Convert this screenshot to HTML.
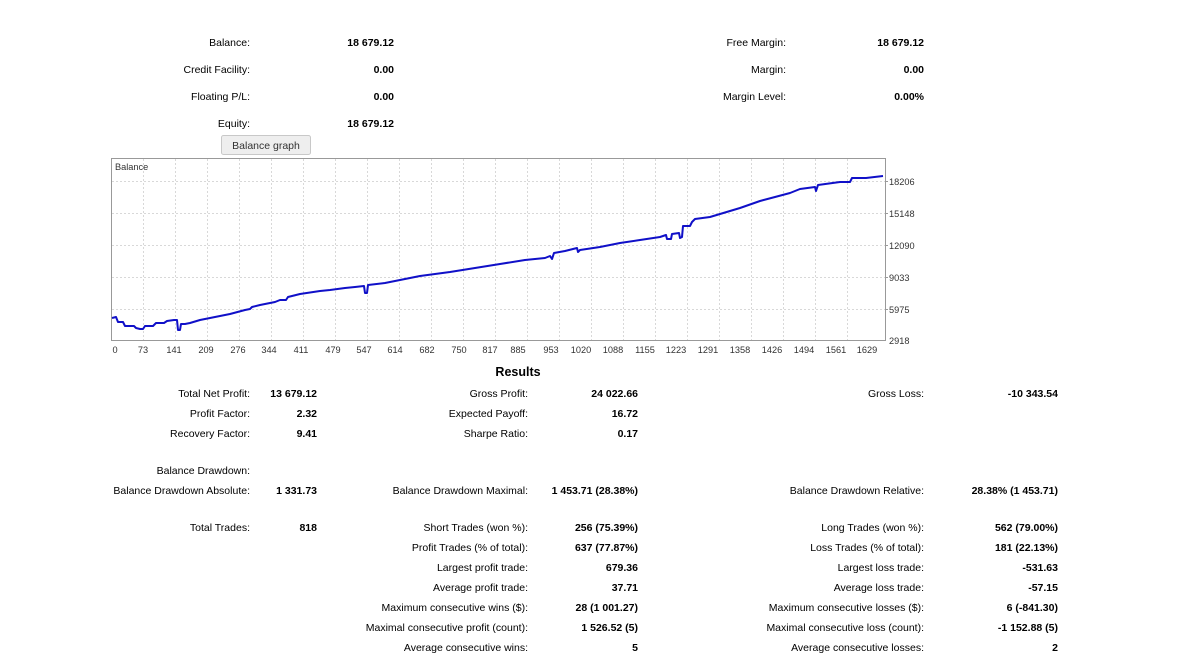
<!DOCTYPE html>
<html><head><meta charset="utf-8"><style>
html,body{margin:0;padding:0;background:#fff;width:1197px;height:667px;overflow:hidden}
svg{display:block}
text{font-family:"Liberation Sans","DejaVu Sans",sans-serif;font-size:10.5px;fill:#000}
.b{font-weight:bold}
.ax{font-size:9.2px;fill:#333}
</style></head><body>
<svg width="1197" height="667" viewBox="0 0 1197 667">
<g text-anchor="end">
<text x="250" y="46">Balance:</text><text x="394" y="46" class="b">18 679.12</text>
<text x="250" y="73">Credit Facility:</text><text x="394" y="73" class="b">0.00</text>
<text x="250" y="100">Floating P/L:</text><text x="394" y="100" class="b">0.00</text>
<text x="250" y="127">Equity:</text><text x="394" y="127" class="b">18 679.12</text>
<text x="786" y="46">Free Margin:</text><text x="924" y="46" class="b">18 679.12</text>
<text x="786" y="73">Margin:</text><text x="924" y="73" class="b">0.00</text>
<text x="786" y="100">Margin Level:</text><text x="924" y="100" class="b">0.00%</text>
</g>
<rect x="221.5" y="135.5" width="89" height="19" rx="2" fill="#eeeeee" stroke="#c8c8c8"/>
<text x="266" y="149" text-anchor="middle" style="fill:#333">Balance graph</text>
<rect x="111.5" y="158.5" width="774" height="182" fill="#fff" stroke="#999"/>
<g stroke="#d8d8d8" stroke-dasharray="2,2" stroke-width="1">
<line x1="112" y1="181.5" x2="885" y2="181.5"/><line x1="112" y1="213.5" x2="885" y2="213.5"/>
<line x1="112" y1="245.5" x2="885" y2="245.5"/><line x1="112" y1="277.5" x2="885" y2="277.5"/>
<line x1="112" y1="309.5" x2="885" y2="309.5"/>
<line x1="143.5" y1="159" x2="143.5" y2="340"/><line x1="175.5" y1="159" x2="175.5" y2="340"/><line x1="207.5" y1="159" x2="207.5" y2="340"/><line x1="239.5" y1="159" x2="239.5" y2="340"/><line x1="271.5" y1="159" x2="271.5" y2="340"/><line x1="303.5" y1="159" x2="303.5" y2="340"/><line x1="335.5" y1="159" x2="335.5" y2="340"/><line x1="367.5" y1="159" x2="367.5" y2="340"/><line x1="399.5" y1="159" x2="399.5" y2="340"/><line x1="431.5" y1="159" x2="431.5" y2="340"/><line x1="463.5" y1="159" x2="463.5" y2="340"/><line x1="495.5" y1="159" x2="495.5" y2="340"/><line x1="527.5" y1="159" x2="527.5" y2="340"/><line x1="559.5" y1="159" x2="559.5" y2="340"/><line x1="591.5" y1="159" x2="591.5" y2="340"/><line x1="623.5" y1="159" x2="623.5" y2="340"/><line x1="655.5" y1="159" x2="655.5" y2="340"/><line x1="687.5" y1="159" x2="687.5" y2="340"/><line x1="719.5" y1="159" x2="719.5" y2="340"/><line x1="751.5" y1="159" x2="751.5" y2="340"/><line x1="783.5" y1="159" x2="783.5" y2="340"/><line x1="815.5" y1="159" x2="815.5" y2="340"/><line x1="847.5" y1="159" x2="847.5" y2="340"/>
</g>
<text x="115" y="170" class="ax">Balance</text>
<polyline fill="none" stroke="#1010c8" stroke-width="2" stroke-linejoin="round" points="112,318 116,317 118,322 123,322 125,326 134,326 136,328 140,329 143,329 145,326 153,326 156,323 164,323 167,321 174,320 177,320 178,330 180,330 181,324 185,324 190,323 200,320 215,317 230,314 245,310 250,309 252,307 260,305 275,302 280,300 286,300 288,297 300,294 320,291 330,290 345,288 355,287 364,286 365,293 367,293 368,285 385,283 400,280 420,276 450,272 475,268 500,264 525,260 545,258 550,256 552,259 554,253 565,251 577,248 578,252 580,250 600,247 620,243 640,240 660,237 666,235 667,239 671,239 672,234 679,233 680,238 682,237 683,226 690,226 692,222 695,219 710,217 720,214 740,208 760,201 775,197 790,193 800,189 815,187 816,191 818,185 840,182 850,182 852,178 866,178 883,176"/>
<g text-anchor="middle">
<text x="115" y="353" class="ax">0</text><text x="143" y="353" class="ax">73</text><text x="174" y="353" class="ax">141</text><text x="206" y="353" class="ax">209</text><text x="238" y="353" class="ax">276</text><text x="269" y="353" class="ax">344</text><text x="301" y="353" class="ax">411</text><text x="333" y="353" class="ax">479</text><text x="364" y="353" class="ax">547</text><text x="395" y="353" class="ax">614</text><text x="427" y="353" class="ax">682</text><text x="459" y="353" class="ax">750</text><text x="490" y="353" class="ax">817</text><text x="518" y="353" class="ax">885</text><text x="551" y="353" class="ax">953</text><text x="581" y="353" class="ax">1020</text><text x="613" y="353" class="ax">1088</text><text x="645" y="353" class="ax">1155</text><text x="676" y="353" class="ax">1223</text><text x="708" y="353" class="ax">1291</text><text x="740" y="353" class="ax">1358</text><text x="772" y="353" class="ax">1426</text><text x="804" y="353" class="ax">1494</text><text x="836" y="353" class="ax">1561</text><text x="867" y="353" class="ax">1629</text>
</g>
<g stroke="#999"><line x1="885" y1="181.5" x2="888" y2="181.5"/><line x1="885" y1="213.5" x2="888" y2="213.5"/><line x1="885" y1="245.5" x2="888" y2="245.5"/><line x1="885" y1="277.5" x2="888" y2="277.5"/><line x1="885" y1="309.5" x2="888" y2="309.5"/></g>
<text x="889" y="185" class="ax">18206</text><text x="889" y="217" class="ax">15148</text><text x="889" y="249" class="ax">12090</text><text x="889" y="281" class="ax">9033</text><text x="889" y="313" class="ax">5975</text><text x="889" y="344" class="ax">2918</text>
<text x="518" y="376" text-anchor="middle" class="b" style="font-size:12.5px">Results</text>
<g text-anchor="end">
<text x="250" y="397">Total Net Profit:</text><text x="317" y="397" class="b">13 679.12</text>
<text x="250" y="417">Profit Factor:</text><text x="317" y="417" class="b">2.32</text>
<text x="250" y="437">Recovery Factor:</text><text x="317" y="437" class="b">9.41</text>
<text x="250" y="474">Balance Drawdown:</text>
<text x="250" y="494">Balance Drawdown Absolute:</text><text x="317" y="494" class="b">1 331.73</text>
<text x="250" y="531">Total Trades:</text><text x="317" y="531" class="b">818</text>
<text x="528" y="397">Gross Profit:</text><text x="638" y="397" class="b">24 022.66</text>
<text x="528" y="417">Expected Payoff:</text><text x="638" y="417" class="b">16.72</text>
<text x="528" y="437">Sharpe Ratio:</text><text x="638" y="437" class="b">0.17</text>
<text x="528" y="494">Balance Drawdown Maximal:</text><text x="638" y="494" class="b">1 453.71 (28.38%)</text>
<text x="528" y="531">Short Trades (won %):</text><text x="638" y="531" class="b">256 (75.39%)</text>
<text x="528" y="551">Profit Trades (% of total):</text><text x="638" y="551" class="b">637 (77.87%)</text>
<text x="528" y="571">Largest profit trade:</text><text x="638" y="571" class="b">679.36</text>
<text x="528" y="591">Average profit trade:</text><text x="638" y="591" class="b">37.71</text>
<text x="528" y="611">Maximum consecutive wins ($):</text><text x="638" y="611" class="b">28 (1 001.27)</text>
<text x="528" y="631">Maximal consecutive profit (count):</text><text x="638" y="631" class="b">1 526.52 (5)</text>
<text x="528" y="651">Average consecutive wins:</text><text x="638" y="651" class="b">5</text>
<text x="924" y="397">Gross Loss:</text><text x="1058" y="397" class="b">-10 343.54</text>
<text x="924" y="494">Balance Drawdown Relative:</text><text x="1058" y="494" class="b">28.38% (1 453.71)</text>
<text x="924" y="531">Long Trades (won %):</text><text x="1058" y="531" class="b">562 (79.00%)</text>
<text x="924" y="551">Loss Trades (% of total):</text><text x="1058" y="551" class="b">181 (22.13%)</text>
<text x="924" y="571">Largest loss trade:</text><text x="1058" y="571" class="b">-531.63</text>
<text x="924" y="591">Average loss trade:</text><text x="1058" y="591" class="b">-57.15</text>
<text x="924" y="611">Maximum consecutive losses ($):</text><text x="1058" y="611" class="b">6 (-841.30)</text>
<text x="924" y="631">Maximal consecutive loss (count):</text><text x="1058" y="631" class="b">-1 152.88 (5)</text>
<text x="924" y="651">Average consecutive losses:</text><text x="1058" y="651" class="b">2</text>
</g>
</svg>
</body></html>
